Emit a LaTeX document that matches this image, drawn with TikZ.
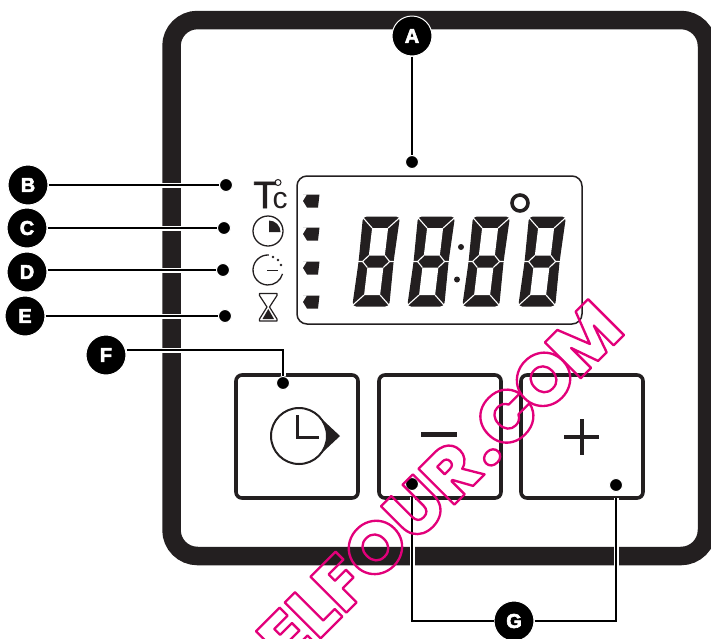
\documentclass[tikz,border=0pt]{standalone}
\usepackage{fontspec}
\setmainfont{Liberation Sans}
\newfontfamily\markfont{Poppins ExtraBold}
\usepackage{xcolor}
\usetikzlibrary{positioning}
\definecolor{panelblack}{HTML}{231F20}
\definecolor{markpink}{HTML}{E2007A}
\newcommand{\outlinetext}[1]{\special{pdf:code 1 Tr 2.3 w 1 j}#1\special{pdf:code 0 Tr 0 j}}
\newcommand{\heavytext}[1]{\special{pdf:code 2 Tr 0.6 w}#1\special{pdf:code 0 Tr}}

\begin{document}
\begin{tikzpicture}[
    x=1pt, y=-1pt,
    callout/.style={circle, fill=black, draw=white, line width=1pt, minimum size=40pt, inner sep=0pt, text=white, font=\fontsize{20}{20}\selectfont\bfseries},
    tipdot/.style={circle, fill=black, draw=white, line width=1pt, minimum size=13pt, inner sep=0pt},
    leader/.style={line width=1.7pt, black, preaction={draw=white, line width=5pt}},
    keybox/.style={draw=panelblack, line width=3.6pt, rounded corners=6pt},
    flagmark/.pic={\fill[panelblack] (0,-6.5) -- (16.5,-6.5) -- (15,6.5) -- (4,6.5) -- (0,0) -- (4,-6.5) -- cycle;},
    lcddigit/.pic={
      \begin{scope}[xslant=0.12]
      \fill[panelblack, rounded corners=4pt] (0,0) -- (37,0) -- (36,45) -- (37,90) -- (0,90) -- (1,45) -- cycle;
      \fill[white] (10.5,11.5) -- (26.5,11.5) -- (26.5,39) -- (10.5,39) -- cycle;
      \fill[white] (10.5,51) -- (26.5,51) -- (26.5,78.5) -- (10.5,78.5) -- cycle;
      \draw[white, line width=1.1pt] (0,1) -- (10.5,11.5) (37,1) -- (26.5,11.5) (0,89) -- (10.5,78.5) (37,89) -- (26.5,78.5);
      \draw[white, line width=1.1pt] (10.5,39) -- (5,45) -- (10.5,51) (26.5,39) -- (32,45) -- (26.5,51) (0,45) -- (5,45) (32,45) -- (37,45);
      \end{scope}
    }
]
  \useasboundingbox (0,0) rectangle (711,638);

  % Panel
  \begin{scope}
    \clip (0,0) rectangle (711,638);
    \draw[panelblack, line width=18.5pt, rounded corners=26pt] (171.5,20) rectangle (707,556);
  \end{scope}

  % Display
  \draw[panelblack, line width=1.5pt, rounded corners=10pt] (297,176) rectangle (582,324);
  \foreach \y in {201,234,268,302} \pic at (303,\y) {flagmark};
  \foreach \x in {363,418,473,529} \pic at (\x,216.5) {lcddigit};
  \fill[panelblack] (461,247) circle (3) (457,279.5) circle (3);
  \draw[panelblack, line width=3.6pt] (520,203) circle (8);

  % Icons
  \node (tsign) [inner sep=0pt, anchor=base, panelblack, font=\fontsize{38}{38}\selectfont] at (265,208) {\heavytext{T}};
  \node (csign) [inner sep=0pt, anchor=base, panelblack, font=\fontsize{30}{30}\selectfont] at (280,208) {c};
  \draw[panelblack, line width=1pt] (278,182.5) circle (3);
  \draw[panelblack, line width=1.3pt] (268,231) circle (15);
  \fill[panelblack] (269,232) -- (269,220.5) arc[start angle=-90, end angle=0, radius=11.5] -- cycle;
  \draw[panelblack, line width=1.3pt] (268.8,255) arc[start angle=-87, end angle=-345, radius=15];
  \draw[panelblack, line width=1.6pt] (267,270.5) -- (278,270.5);
  \fill[panelblack] (273,257) circle (1.3) (278,260) circle (1.3) (281,265) circle (1.3);
  \draw[panelblack, line width=1.2pt, line join=round] (259.5,293.5) -- (277,293.5) -- (277,295.5) -- (269.5,307) -- (277,319) -- (277,321) -- (259.5,321) -- (259.5,319) -- (267,307) -- (259.5,295.5) -- cycle;
  \fill[panelblack] (268.3,309) -- (274,319) -- (262.5,319) -- cycle;

  % Keys
  \draw[keybox] (236,375) rectangle (358,498);
  \draw[keybox] (379,375) rectangle (501,498);
  \draw[keybox] (521,375) rectangle (643,498);
  \fill[panelblack] (340,436) -- (318.1,415.5) -- (318.1,456.5) -- cycle;
  \draw[panelblack, line width=2pt, fill=white] (299,436) circle (28);
  \draw[panelblack, line width=3pt] (297,415) -- (297,437) -- (319,437);
  \fill[panelblack] (421,432) rectangle (457,437);
  \draw[panelblack, line width=3.4pt] (564,437) -- (599,437) (582,419) -- (582,455);

  % Nodes
  \node (dotA) [tipdot] at (412,162) {};
  \node (dotB) [tipdot] at (226,185) {};
  \node (dotC) [tipdot] at (224,228) {};
  \node (dotD) [tipdot] at (223,270) {};
  \node (dotE) [tipdot] at (225,316) {};
  \node (dotF) [tipdot] at (283,383) {};
  \node (dotGa) [tipdot] at (412,484) {};
  \node (dotGb) [tipdot] at (616,485) {};

  \node (markA) [callout] at (412,36) {\heavytext{A}};
  \node (markB) [callout] at (28,185) {\heavytext{B}};
  \node (markC) [callout] at (27,228) {\heavytext{C}};
  \node (markD) [callout] at (27,272) {\heavytext{D}};
  \node (markE) [callout] at (25,316) {\heavytext{E}};
  \node (markF) [callout] at (106,355) {\heavytext{F}};
  \node (markG) [callout] at (514,621) {\heavytext{G}};

  % Leaders
  \draw[leader] (markA) -- (dotA);
  \draw[leader] (markB) -- (dotB);
  \draw[leader] (markC) -- (dotC);
  \draw[leader] (markD.east |- dotD) -- (dotD);
  \draw[leader] (markE) -- (dotE);
  \draw[leader] (markF.east |- 0,350) -| (dotF);
  \draw[leader, shorten >=6pt] (markG) -| (dotGa);
  \draw[leader, shorten >=6pt] (markG) -| (dotGb);

  % Watermark
  \begin{scope}
    \clip (0,0) rectangle (711,638);
    \node (wmark) [inner sep=0pt, anchor=base east, rotate=45, xscale=1.03, text=markpink, font=\fontsize{72}{72}\selectfont\markfont] at (627,332) {\outlinetext{ELFOUR\kern4pt.C\kern-5pt O\kern-6pt M}};
  \end{scope}
\end{tikzpicture}
\end{document}
